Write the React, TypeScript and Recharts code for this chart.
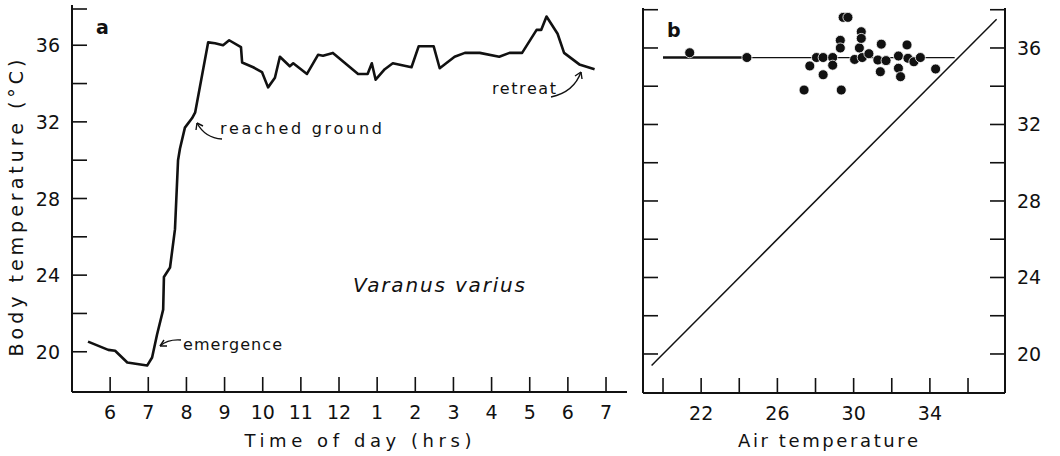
import { LineChart, Line, XAxis, YAxis, ScatterChart, Scatter, ReferenceLine } from 'recharts'

const FONT = '"DejaVu Sans", "Liberation Sans", sans-serif'
const INK = '#111'

// panel a: body temperature through the day
const hours = [5.42, 5.95, 6.13, 6.45, 6.97, 7.1, 7.23, 7.39, 7.41, 7.57, 7.7, 7.78, 7.83, 7.96, 8.15, 8.23, 8.57, 8.75, 8.96, 9.12, 9.43, 9.46, 9.75, 9.98, 10.14, 10.32, 10.45, 10.71, 10.8, 11.16, 11.45, 11.58, 11.84, 12.5, 12.75, 12.86, 12.96, 13.2, 13.41, 13.9, 14.09, 14.48, 14.64, 15.03, 15.3, 15.69, 16.2, 16.47, 16.8, 17.18, 17.3, 17.44, 17.73, 17.9, 18.3, 18.7]
const bodyTemps = [20.53, 20.1, 20.05, 19.44, 19.28, 19.7, 20.9, 22.2, 23.9, 24.4, 26.4, 30.0, 30.6, 31.7, 32.2, 32.5, 36.15, 36.1, 36.0, 36.26, 35.9, 35.1, 34.85, 34.6, 33.8, 34.3, 35.4, 34.9, 35.06, 34.5, 35.5, 35.45, 35.6, 34.5, 34.5, 35.06, 34.2, 34.75, 35.06, 34.85, 35.95, 35.95, 34.8, 35.4, 35.6, 35.6, 35.4, 35.6, 35.6, 36.8, 36.8, 37.5, 36.6, 35.6, 35.0, 34.75]
const hourTicks = [6, 7, 8, 9, 10, 11, 12, 13, 14, 15, 16, 17, 18, 19]
const tempTicks = [20, 22, 24, 26, 28, 30, 32, 34, 36, 38]

// panel b: body vs air temperature
const airTemps = [21.4, 24.4, 27.4, 27.7, 28.05, 28.4, 28.4, 28.9, 28.9, 29.3, 29.3, 29.35, 29.45, 29.7, 30.05, 30.3, 30.4, 30.4, 30.45, 30.8, 31.27, 31.45, 31.4, 31.7, 32.35, 32.35, 32.46, 32.8, 32.85, 33.16, 33.5, 34.3]
const bodyAtAir = [35.75, 35.5, 33.8, 35.06, 35.5, 35.5, 34.6, 35.5, 35.1, 36.4, 36.0, 33.8, 37.6, 37.6, 35.4, 36.0, 36.85, 36.5, 35.5, 35.7, 35.37, 36.2, 34.76, 35.34, 35.58, 34.94, 34.5, 36.16, 35.46, 35.28, 35.5, 34.9]
const airTicks = [20, 22, 24, 26, 28, 30, 32, 34, 36]
const airLabels = [22, 26, 30, 34]
const plateauLevel = 35.5
const plateauStart = [20, 24.4]
const plateauEnd = [24.4, 35.3]
const equalityRange = [19.4, 37.5]

const timeData = hours.map((h, i) => ({ h, temp: bodyTemps[i] }))
const scatterData = airTemps.map((a, i) => ({ air: a, body: bodyAtAir[i] }))

const clock = (h: number) => (h > 12 ? h - 12 : h)

function BottomTick(props: any) {
  const { x, y, payload, show, fmt } = props
  const v = payload.value
  return (
    <g>
      <line x1={x} x2={x} y1={y} y2={y - 15} stroke={INK} strokeWidth={1.6} />
      {show(v) && (
        <text x={x} y={y + 27} textAnchor="middle" fontFamily={FONT} fontSize={19} fill={INK}>
          {fmt(v)}
        </text>
      )}
    </g>
  )
}

function SideTick(props: any) {
  const { x, y, payload, side, labels } = props
  const v = payload.value
  const dir = side === 'left' ? 1 : -1
  const showLabel = labels && v % 4 === 0 && v < 38
  return (
    <g>
      <line x1={x} x2={x + dir * 15} y1={y} y2={y} stroke={INK} strokeWidth={1.6} />
      {showLabel && (
        <text
          x={side === 'left' ? x - 12 : x + 12}
          y={y + 7}
          textAnchor={side === 'left' ? 'end' : 'start'}
          fontFamily={FONT}
          fontSize={19}
          fill={INK}
        >
          {v}
        </text>
      )}
    </g>
  )
}

const Dot = (p: any) => <circle cx={p.cx} cy={p.cy} r={5} fill={INK} stroke="#fff" strokeWidth={0.8} />

function Annotations() {
  const txt = { fontFamily: FONT, fill: INK }
  return (
    <svg width={1060} height={456} style={{ position: 'absolute', left: 0, top: 0, pointerEvents: 'none' }}>
      <text x={96} y={34} fontSize={19} fontWeight="bold" {...txt}>a</text>
      <text x={667} y={37} fontSize={19} fontWeight="bold" {...txt}>b</text>

      <text x={220} y={134} fontSize={16} textLength={162} lengthAdjust="spacing" {...txt}>reached ground</text>
      <path d="M 222 139 Q 205 138 197 123" fill="none" stroke={INK} strokeWidth={1.4} />
      <path d="M 197 123 L 196 130 M 197 123 L 203 126" fill="none" stroke={INK} strokeWidth={1.4} />

      <text x={183} y={350} fontSize={16} textLength={99} lengthAdjust="spacing" {...txt}>emergence</text>
      <path d="M 181 340 Q 168 339 160 346" fill="none" stroke={INK} strokeWidth={1.4} />
      <path d="M 160 346 L 167 346 M 160 346 L 164 340" fill="none" stroke={INK} strokeWidth={1.4} />

      <text x={492} y={94} fontSize={16} textLength={64} lengthAdjust="spacing" {...txt}>retreat</text>
      <path d="M 551 97 Q 574 92 581 72" fill="none" stroke={INK} strokeWidth={1.4} />
      <path d="M 581 72 L 575 76 M 581 72 L 582 79" fill="none" stroke={INK} strokeWidth={1.4} />

      <text x={353} y={292} fontSize={20} fontStyle="italic" textLength={172} lengthAdjust="spacing" {...txt}>Varanus varius</text>

      <text x={358} y={447} fontSize={18} textAnchor="middle" textLength={227} lengthAdjust="spacing" {...txt}>Time of day (hrs)</text>
      <text x={828} y={447} fontSize={18} textAnchor="middle" textLength={180} lengthAdjust="spacing" {...txt}>Air temperature</text>
      <text transform="translate(23,208) rotate(-90)" x={0} y={0} fontSize={19} textAnchor="middle" textLength={297} lengthAdjust="spacing" {...txt}>Body temperature (°C)</text>
    </svg>
  )
}

export default function App() {
  return (
    <div style={{ position: 'absolute', left: 0, top: 0, width: 1060, height: 456, background: '#fff', overflow: 'hidden' }}>
      <div style={{ position: 'absolute', left: 0, top: 0 }}>
        <LineChart width={660} height={456} data={timeData} margin={{ top: 5, right: 33, left: 0, bottom: 24 }}>
          <XAxis
            type="number"
            dataKey="h"
            domain={[5, 19.55]}
            ticks={hourTicks}
            allowDataOverflow
            height={40}
            tickSize={0}
            tickMargin={0}
            tickLine={false}
            axisLine={{ stroke: INK, strokeWidth: 2 }}
            tick={(p: any) => <BottomTick {...p} show={() => true} fmt={clock} />}
          />
          <YAxis
            type="number"
            domain={[17.9, 38.1]}
            ticks={tempTicks}
            allowDataOverflow
            width={72}
            tickSize={0}
            tickMargin={0}
            tickLine={false}
            axisLine={{ stroke: INK, strokeWidth: 2 }}
            tick={(p: any) => <SideTick {...p} side="left" labels />}
          />
          <Line
            type="linear"
            dataKey="temp"
            stroke={INK}
            strokeWidth={2.6}
            strokeLinejoin="round"
            dot={false}
            isAnimationActive={false}
          />
        </LineChart>
      </div>
      <div style={{ position: 'absolute', left: 600, top: 0 }}>
        <ScatterChart width={460} height={456} margin={{ top: 8, right: 0, left: 0, bottom: 23 }}>
          <XAxis
            type="number"
            dataKey="air"
            domain={[18.95, 37.94]}
            ticks={airTicks}
            allowDataOverflow
            height={40}
            tickSize={0}
            tickMargin={0}
            tickLine={false}
            axisLine={{ stroke: INK, strokeWidth: 2 }}
            tick={(p: any) => <BottomTick {...p} show={(v: number) => airLabels.includes(v)} fmt={(v: number) => v} />}
          />
          <YAxis
            yAxisId="l"
            type="number"
            dataKey="body"
            domain={[17.96, 38.09]}
            ticks={tempTicks}
            allowDataOverflow
            width={43}
            tickSize={0}
            tickMargin={0}
            tickLine={false}
            axisLine={{ stroke: INK, strokeWidth: 2 }}
            tick={(p: any) => <SideTick {...p} side="left" labels={false} />}
          />
          <YAxis
            yAxisId="r"
            orientation="right"
            type="number"
            domain={[17.96, 38.09]}
            ticks={tempTicks}
            allowDataOverflow
            width={55}
            tickSize={0}
            tickMargin={0}
            tickLine={false}
            axisLine={{ stroke: INK, strokeWidth: 2 }}
            tick={(p: any) => <SideTick {...p} side="right" labels />}
          />
          <ReferenceLine
            yAxisId="l"
            segment={[{ x: equalityRange[0], y: equalityRange[0] }, { x: equalityRange[1], y: equalityRange[1] }]}
            stroke={INK}
            strokeWidth={1.5}
            ifOverflow="visible"
          />
          <ReferenceLine
            yAxisId="l"
            segment={[{ x: plateauStart[0], y: plateauLevel }, { x: plateauStart[1], y: plateauLevel }]}
            stroke={INK}
            strokeWidth={2.4}
            ifOverflow="visible"
          />
          <ReferenceLine
            yAxisId="l"
            segment={[{ x: plateauEnd[0], y: plateauLevel }, { x: plateauEnd[1], y: plateauLevel }]}
            stroke={INK}
            strokeWidth={1.3}
            ifOverflow="visible"
          />
          <Scatter yAxisId="l" data={scatterData} shape={Dot} isAnimationActive={false} />
        </ScatterChart>
      </div>
      <Annotations />
    </div>
  )
}
